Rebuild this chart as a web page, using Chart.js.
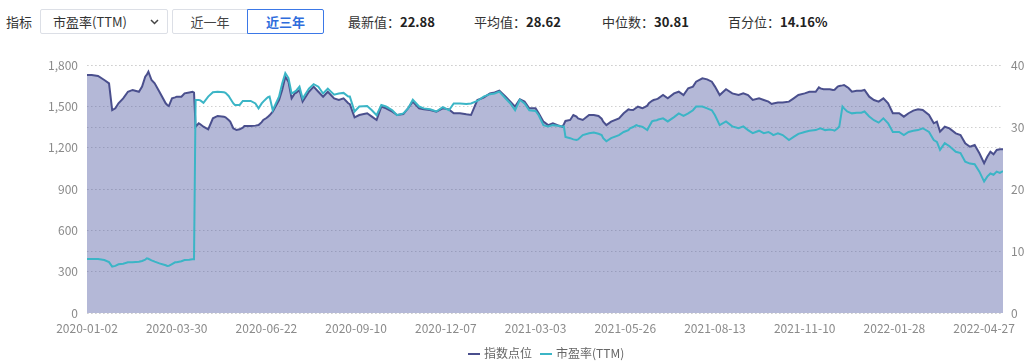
<!DOCTYPE html>
<html>
<head>
<meta charset="utf-8">
<script src="https://cdn.jsdelivr.net/npm/chart.js@4.4.1/dist/chart.umd.min.js"></script>
<style>
  html, body { margin:0; padding:0; background:#fff; }
  body { width:1024px; height:363px; position:relative; overflow:hidden;
         font-family:"Noto Sans CJK SC","Noto Sans",sans-serif; color:#333; }
  #chart { position:absolute; left:0; top:0; }
  .t { position:absolute; top:13px; font-size:13px; line-height:18px; white-space:nowrap; }
  .b { font-weight:bold; color:#222; }
  .box { position:absolute; top:9px; height:25px; border:1px solid #dcdfe6; box-sizing:border-box;
         background:#fff; font-size:13px; line-height:23px; white-space:nowrap; }
  #legend { position:absolute; top:344px; left:468px; font-size:12px; color:#666; white-space:nowrap; }
  #legend .item { display:inline-block; margin-right:8px; }
  #legend .sym { display:inline-block; width:12px; height:2px; vertical-align:middle; margin-right:4px; position:relative; top:-1px; }
</style>
</head>
<body>
<div class="t" style="left:6px;">指标</div>
<div class="box" style="left:40px;width:128px;border-radius:2px;padding-left:12px;">市盈率(TTM)
  <svg style="position:absolute;left:109px;top:9px" width="9" height="6"><polyline points="1,1 4.5,4.5 8,1" fill="none" stroke="#444" stroke-width="1.5"/></svg>
</div>
<div class="box" style="left:172px;width:76px;text-align:center;color:#444;border-radius:2px 0 0 2px;">近一年</div>
<div class="box" style="left:247px;width:77px;text-align:center;color:#2f6ddc;font-weight:bold;border-color:#3b78e7;border-radius:0 2px 2px 0;">近三年</div>
<div class="t" style="left:348px;">最新值：<span class="b">22.88</span></div>
<div class="t" style="left:474px;">平均值：<span class="b">28.62</span></div>
<div class="t" style="left:602px;">中位数：<span class="b">30.81</span></div>
<div class="t" style="left:728px;">百分位：<span class="b">14.16%</span></div>

<canvas id="chart" width="1024" height="363"></canvas>
<div id="legend"></div>

<script>
// ---- data (trading-day index since 2020-01-02) ----
const seriesNames = ['指数点位', '市盈率(TTM)'];
const tickDays   = [0, 57, 114, 171, 228, 285, 342, 399, 456, 513, 570];
const tickLabels = ['2020-01-02','2020-03-30','2020-06-22','2020-09-10','2020-12-07','2021-03-03','2021-05-26','2021-08-13','2021-11-10','2022-01-28','2022-04-27'];
const leftTicks  = [0, 300, 600, 900, 1200, 1500, 1800];
const rightTicks = [0, 10, 20, 30, 40];

const days = [0,3,7,11,14,16,18,20,23,26,29,33,35,37,38,39,41,43,46,50,51,52,54,56,57,60,62,65,67,68,
  69,71,72,74,77,80,83,87,88,90,91,93,94,95,97,99,100,104,107,109,111,112,114,115,116,118,122,124,126,128,
  130,132,133,135,137,141,144,147,150,153,157,160,163,166,167,170,173,178,181,184,187,190,194,197,201,204,207,211,214,218,
  222,226,230,233,237,241,244,248,252,256,259,262,266,269,272,275,278,281,285,287,290,293,296,299,302,303,304,307,309,311,
  312,315,319,322,325,327,328,330,333,338,341,344,345,347,349,350,352,353,356,357,359,360,362,363,366,369,373,376,379,382,
  385,387,391,394,397,399,402,406,410,414,417,420,423,427,430,433,435,436,439,442,446,449,452,456,459,463,465,466,468,469,
  472,474,475,477,478,480,481,483,484,486,489,492,494,497,500,503,506,509,512,516,519,522,525,528,531,535,538,540,542,545,
  548,552,555,558,561,564,567,570,572,574,576,578,580,582];

const indexValues = [1727,1727,1720,1691,1667,1473,1486,1522,1558,1606,1619,1606,1643,1715,1730,1751,1691,1667,1606,1522,1510,1502,1558,1565,1570,1570,1594,1601,1606,1600,
  1352,1377,1370,1352,1333,1413,1430,1425,1420,1401,1390,1340,1335,1328,1333,1345,1357,1357,1360,1364,1385,1401,1415,1425,1435,1461,1546,1619,1715,1679,
  1558,1594,1600,1619,1534,1606,1643,1606,1570,1606,1558,1546,1558,1522,1515,1420,1437,1450,1425,1401,1498,1486,1461,1437,1444,1486,1534,1486,1478,1473,
  1461,1486,1478,1450,1450,1442,1437,1546,1563,1594,1601,1613,1570,1534,1498,1551,1534,1486,1486,1450,1389,1364,1377,1364,1352,1370,1394,1401,1437,1425,
  1413,1401,1437,1437,1430,1410,1389,1364,1389,1413,1450,1478,1475,1473,1490,1498,1490,1486,1505,1522,1540,1546,1552,1558,1582,1558,1594,1606,1582,1631,
  1643,1679,1703,1696,1679,1643,1582,1624,1594,1582,1594,1582,1546,1558,1546,1534,1517,1520,1527,1527,1534,1558,1582,1594,1606,1606,1638,1630,1624,1624,
  1624,1619,1620,1643,1648,1652,1655,1640,1631,1606,1613,1613,1619,1570,1546,1534,1558,1522,1450,1450,1425,1450,1469,1478,1473,1437,1377,1389,1316,1352,
  1340,1304,1292,1232,1207,1219,1159,1087,1134,1171,1152,1183,1188,1188];

const peValues = [8.71,8.71,8.71,8.55,8.2,7.47,7.6,7.85,7.95,8.17,8.2,8.28,8.4,8.6,8.82,8.75,8.5,8.28,8.0,7.7,7.58,7.6,7.9,8.17,8.2,8.35,8.55,8.6,8.65,8.66,
  34.36,34.36,34.3,33.9,34.9,35.6,35.7,35.6,35.5,35.0,34.6,33.8,33.55,33.55,33.55,34.2,34.2,34.2,33.8,33.0,33.8,34.1,34.6,34.8,34.9,32.7,34.9,37.0,38.7,37.9,
  35.4,35.7,35.9,36.5,34.6,36.2,36.9,36.5,35.4,36.2,35.2,35.4,35.5,34.9,34.9,32.5,33.3,33.4,32.7,31.9,33.55,33.3,32.7,31.9,32.2,33.0,34.4,33.3,33.0,32.85,
  32.5,33.2,32.7,33.8,33.8,33.7,33.8,34.2,34.9,35.3,35.4,35.7,34.6,33.8,32.7,34.4,33.8,32.7,32.6,31.9,30.3,30.1,30.3,30.2,30.1,30.1,28.4,28.2,28.0,27.9,
  28.0,28.7,29.0,29.1,28.9,28.7,28.2,27.7,28.2,28.7,29.2,29.5,29.8,30.0,30.3,30.2,30.1,30.0,29.5,30.0,30.9,31.0,31.1,31.2,31.4,30.9,31.6,32.2,31.8,32.2,
  32.7,33.3,33.3,33.0,32.7,31.9,30.3,30.9,30.1,29.8,30.1,29.5,29.0,29.4,29.0,29.2,28.9,28.7,29.0,28.7,27.9,28.4,28.9,29.2,29.4,29.5,29.7,29.8,29.6,29.5,
  29.6,29.5,29.4,29.8,30.1,33.3,33.0,32.5,32.4,32.2,32.3,32.3,32.5,31.7,31.1,30.7,31.4,30.6,29.2,29.2,28.7,29.2,29.4,29.5,29.8,29.2,27.9,27.6,26.3,27.4,
  26.9,26.0,25.8,24.4,24.1,24.0,22.8,21.2,22.0,22.5,22.3,22.8,22.6,22.88];

const colors = ['#4a4f8d', '#3bb5c6'];

Chart.defaults.font.family = '"Noto Sans CJK SC","Noto Sans",sans-serif';
Chart.defaults.font.size = 12;
Chart.defaults.color = '#8a8a8a';

const gridCommon = { color: '#d0d0d0', lineWidth: 1, drawTicks: false };

new Chart(document.getElementById('chart'), {
  type: 'line',
  data: {
    datasets: [
      { label: seriesNames[0], data: days.map((d, i) => ({ x: d, y: indexValues[i] })), yAxisID: 'y',
        borderColor: colors[0], backgroundColor: 'rgba(76,86,160,0.42)', fill: 'origin',
        borderWidth: 2, pointRadius: 0, tension: 0, order: 2 },
      { label: seriesNames[1], data: days.map((d, i) => ({ x: d, y: peValues[i] })), yAxisID: 'y1',
        borderColor: colors[1], fill: false, borderWidth: 2, pointRadius: 0, tension: 0, order: 1 }
    ]
  },
  options: {
    responsive: false, animation: false, events: [],
    layout: { padding: { top: 65, left: 0, right: 0, bottom: 0 } },
    plugins: { legend: { display: false }, tooltip: { enabled: false } },
    scales: {
      x: { type: 'linear', min: 0, max: 582,
        afterBuildTicks: s => { s.ticks = tickDays.map(v => ({ value: v })); },
        ticks: { autoSkip: false, maxRotation: 0, padding: 0,
          callback: v => tickLabels[tickDays.indexOf(v)] },
        grid: { display: false }, border: { display: false },
        afterFit: s => { s.height = 50; } },
      y: { position: 'left', min: 0, max: 1800,
        afterBuildTicks: s => { s.ticks = leftTicks.map(v => ({ value: v })); },
        ticks: { padding: 9 },
        grid: gridCommon, border: { display: false, dash: [1.5, 2.5] },
        afterFit: s => { s.width = 87; } },
      y1: { position: 'right', min: 0, max: 40,
        afterBuildTicks: s => { s.ticks = rightTicks.map(v => ({ value: v })); },
        ticks: { padding: 8 },
        grid: gridCommon, border: { display: false, dash: [1.5, 2.5] },
        afterFit: s => { s.width = 21; } }
    }
  }
});

const lg = document.getElementById('legend');
seriesNames.forEach((n, i) => {
  const it = document.createElement('span'); it.className = 'item';
  const sym = document.createElement('span'); sym.className = 'sym'; sym.style.background = colors[i];
  it.appendChild(sym); it.appendChild(document.createTextNode(n)); lg.appendChild(it);
});
</script>
</body>
</html>
